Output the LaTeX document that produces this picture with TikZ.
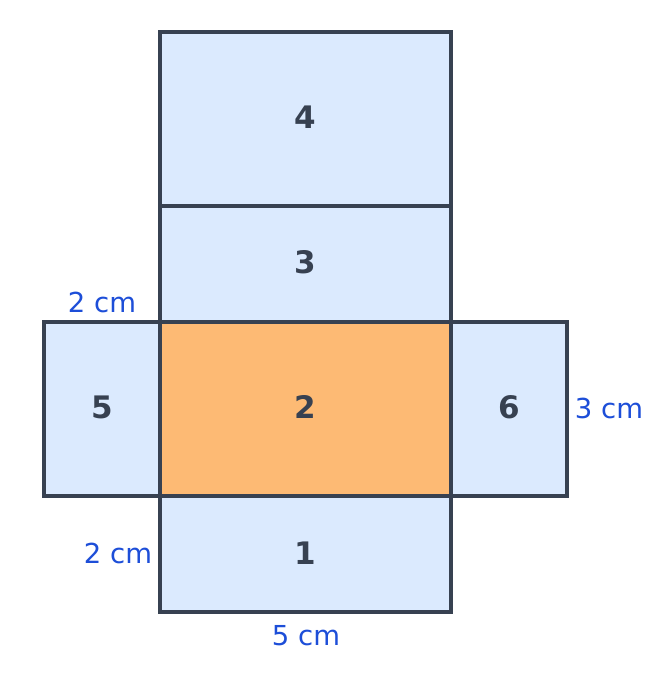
\documentclass[tikz,border=0pt]{standalone}
\usepackage{fontspec}
\setmainfont{DejaVu Sans}
\definecolor{edge}{HTML}{374151}
\definecolor{faceblue}{HTML}{DBEAFE}
\definecolor{faceorange}{HTML}{FDBA74}
\definecolor{dimblue}{HTML}{1D4ED8}
\begin{document}
\begin{tikzpicture}[x=1pt,y=-1pt,
  face/.style={draw=edge,line width=3.5pt,fill=faceblue},
  base/.style={draw=edge,line width=3.5pt,fill=faceorange},
  num/.style={font=\fontsize{31}{31}\selectfont\bfseries,text=edge},
  dim/.style={font=\fontsize{27.5}{27.5}\selectfont,text=dimblue}]
\useasboundingbox (0,0) rectangle (657,686);
\draw[face] (160,32) rectangle (451,206);
\draw[face] (160,206) rectangle (451,322);
\draw[face] (44,322) rectangle (160,496);
\draw[face] (451,322) rectangle (567,496);
\draw[face] (160,496) rectangle (451,612);
\draw[base] (160,322) rectangle (451,496);
\node[num] (n4) at (305.5,117) {4};
\node[num] (n3) at (305.5,262) {3};
\node[num] (n2) at (305.5,407) {2};
\node[num] (n5) at (102,407) {5};
\node[num] (n6) at (509,407) {6};
\node[num] (n1) at (305.5,553) {1};
\node[dim] (d1) at (102,302) {2 cm};
\node[dim] (d2) at (609,408) {3 cm};
\node[dim] (d3) at (118,553) {2 cm};
\node[dim] (d4) at (306,636) {5 cm};
\end{tikzpicture}
\end{document}
